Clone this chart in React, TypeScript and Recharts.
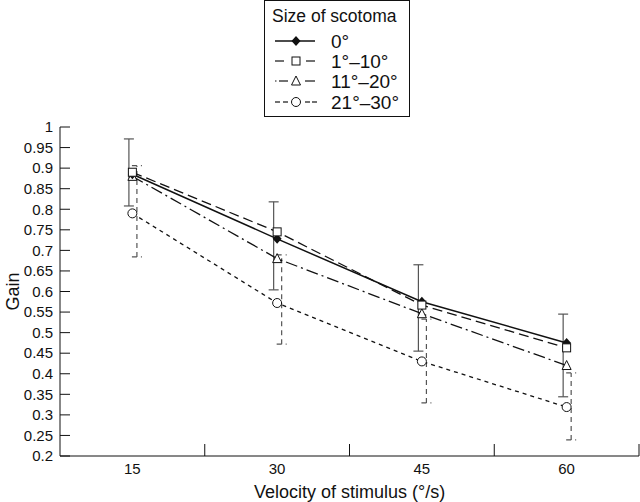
import { ComposedChart, ErrorBar, Line, Scatter, XAxis, YAxis } from "recharts";

const FONT = '"Liberation Sans", Arial, Helvetica, sans-serif';

const velocities = [15, 30, 45, 60];
const gain0 = [0.885, 0.728, 0.575, 0.475];
const gain1to10 = [0.89, 0.745, 0.567, 0.463];
const gain11to20 = [0.88, 0.68, 0.546, 0.42];
const gain21to30 = [0.79, 0.572, 0.43, 0.319];

// error bar ends
const gain0Low = [0.808, 0.604, 0.455, 0.344];
const gain0High = [0.971, 0.818, 0.665, 0.545];
const gain21to30Low = [0.684, 0.472, 0.329, 0.239];
const gain21to30High = [0.906, 0.689, 0.533, 0.402];

const yTicks = [0.2, 0.25, 0.3, 0.35, 0.4, 0.45, 0.5, 0.55, 0.6, 0.65, 0.7, 0.75, 0.8, 0.85, 0.9, 0.95, 1];
const xLabelTicks = [15, 30, 45, 60];
const xBandEdges = [22.5, 37.5, 52.5, 67.5];

const legendLabels = ["0°", "1°–10°", "11°–20°", "21°–30°"];

const chartData = velocities.map((v, i) => ({
  x: v,
  g0: gain0[i],
  g1: gain1to10[i],
  g2: gain11to20[i],
  g3: gain21to30[i],
}));

const errSolid = velocities.map((v, i) => ({
  x: v - 0.36,
  y: gain0[i],
  err: [gain0[i] - gain0Low[i], gain0High[i] - gain0[i]],
}));

const errDashed = velocities.map((v, i) => ({
  x: v + 0.47,
  y: gain21to30[i],
  err: [gain21to30[i] - gain21to30Low[i], gain21to30High[i] - gain21to30[i]],
}));

const INK = "#111";

function diamond(cx: number, cy: number, key?: string) {
  return (
    <path
      key={key}
      d={`M${cx},${cy - 5}L${cx + 4.5},${cy}L${cx},${cy + 5}L${cx - 4.5},${cy}Z`}
      fill={INK}
    />
  );
}
function square(cx: number, cy: number, key?: string) {
  return <rect key={key} x={cx - 4} y={cy - 4} width={8} height={8} fill="#fff" stroke={INK} strokeWidth={1} />;
}
function triangle(cx: number, cy: number, key?: string) {
  return (
    <path
      key={key}
      d={`M${cx},${cy - 5}L${cx + 4.5},${cy + 4}L${cx - 4.5},${cy + 4}Z`}
      fill="#fff"
      stroke={INK}
      strokeWidth={1}
    />
  );
}
function circle(cx: number, cy: number, key?: string) {
  return <circle key={key} cx={cx} cy={cy} r={4.5} fill="#fff" stroke={INK} strokeWidth={1} />;
}

const dotOf = (fn: typeof circle, name: string) => (p: any) => fn(p.cx, p.cy, `${name}-${p.index}`);

const noMark = () => <g />;

function XTick(props: any) {
  const { x, y, payload } = props;
  const v = payload.value;
  if (xLabelTicks.includes(v)) {
    return (
      <text x={x} y={y + 18} textAnchor="middle" fontSize={15} fontFamily={FONT} fill={INK}>
        {v}
      </text>
    );
  }
  if (xBandEdges.includes(v)) {
    return <line x1={x} x2={x} y1={y} y2={y - 12} stroke={INK} strokeWidth={1} />;
  }
  return <g />;
}

function YTick(props: any) {
  const { x, y, payload } = props;
  return (
    <g>
      <line x1={x} x2={x + 10} y1={y} y2={y} stroke={INK} strokeWidth={1} />
      <text x={x - 7} y={y} dy="0.35em" textAnchor="end" fontSize={15} fontFamily={FONT} fill={INK}>
        {String(payload.value)}
      </text>
    </g>
  );
}

function LegendBox() {
  const rows = [41, 61, 81, 102];
  return (
    <svg width={148} height={118} style={{ position: "absolute", left: 263, top: 0 }}>
      <rect x={1.5} y={0.5} width={145} height={116} fill="#fff" stroke={INK} strokeWidth={1} />
      <text x={9} y={22} fontSize={17.5} fontFamily={FONT} fill={INK}>
        Size of scotoma
      </text>
      {/* 0° */}
      <line x1={12} x2={52} y1={rows[0]} y2={rows[0]} stroke={INK} strokeWidth={1.5} />
      {diamond(33, rows[0])}
      {/* 1°–10° */}
      <line x1={12} x2={21} y1={rows[1]} y2={rows[1]} stroke={INK} strokeWidth={1.2} />
      <line x1={43} x2={52} y1={rows[1]} y2={rows[1]} stroke={INK} strokeWidth={1.2} />
      {square(33, rows[1])}
      {/* 11°–20° */}
      <line x1={12} x2={13.5} y1={rows[2]} y2={rows[2]} stroke={INK} strokeWidth={1.2} />
      <line x1={16} x2={25} y1={rows[2]} y2={rows[2]} stroke={INK} strokeWidth={1.2} />
      <line x1={42} x2={52} y1={rows[2]} y2={rows[2]} stroke={INK} strokeWidth={1.2} />
      {triangle(33, rows[2])}
      {/* 21°–30° */}
      <line x1={12} x2={17} y1={rows[3]} y2={rows[3]} stroke={INK} strokeWidth={1.2} />
      <line x1={20} x2={25} y1={rows[3]} y2={rows[3]} stroke={INK} strokeWidth={1.2} />
      <line x1={42} x2={47} y1={rows[3]} y2={rows[3]} stroke={INK} strokeWidth={1.2} />
      <line x1={49} x2={54} y1={rows[3]} y2={rows[3]} stroke={INK} strokeWidth={1.2} />
      {circle(33, rows[3])}
      {legendLabels.map((t, i) => (
        <text key={t} x={68} y={rows[i] + 6.5} fontSize={19} fontFamily={FONT} fill={INK}>
          {t}
        </text>
      ))}
    </svg>
  );
}

export default function App() {
  return (
    <div
      style={{
        position: "absolute",
        left: 0,
        top: 0,
        width: 640,
        height: 502,
        background: "#fff",
        fontFamily: FONT,
      }}
    >
      <ComposedChart
        width={640}
        height={502}
        data={chartData}
        margin={{ top: 127, right: 1, left: 0, bottom: 0 }}
      >
        <XAxis
          dataKey="x"
          type="number"
          domain={[7.5, 67.5]}
          allowDataOverflow
          ticks={[15, 22.5, 30, 37.5, 45, 52.5, 60, 67.5]}
          interval={0}
          tickLine={false}
          tickSize={0}
          tickMargin={0}
          tick={XTick}
          axisLine={{ stroke: INK }}
          height={46}
          label={{
            value: "Velocity of stimulus (°/s)",
            position: "insideBottom",
            offset: 4,
            fontSize: 18,
            fill: INK,
            fontFamily: FONT,
          }}
        />
        <YAxis
          type="number"
          domain={[0.2, 1]}
          allowDataOverflow
          ticks={yTicks}
          interval={0}
          tickLine={false}
          tickSize={0}
          tickMargin={0}
          tick={YTick}
          axisLine={{ stroke: INK }}
          width={60}
          label={{
            value: "Gain",
            angle: -90,
            position: "insideLeft",
            offset: 13,
            fontSize: 18,
            fill: INK,
            fontFamily: FONT,
            style: { textAnchor: "middle" },
          }}
        />
        <Scatter data={errSolid} dataKey="y" shape={noMark} isAnimationActive={false}>
          <ErrorBar dataKey="err" direction="y" width={5} stroke="#555" strokeWidth={1.2} />
        </Scatter>
        <Scatter data={errDashed} dataKey="y" shape={noMark} isAnimationActive={false}>
          <ErrorBar
            dataKey="err"
            direction="y"
            width={5}
            stroke="#555"
            strokeWidth={1.2}
            strokeDasharray="5 4"
          />
        </Scatter>
        <Line
          dataKey="g3"
          stroke={INK}
          strokeWidth={1.3}
          strokeDasharray="4 4"
          dot={dotOf(circle, "c")}
          activeDot={false}
          isAnimationActive={false}
        />
        <Line
          dataKey="g2"
          stroke={INK}
          strokeWidth={1.3}
          strokeDasharray="12 4 2 4"
          dot={dotOf(triangle, "t")}
          activeDot={false}
          isAnimationActive={false}
        />
        <Line
          dataKey="g0"
          stroke={INK}
          strokeWidth={1.5}
          dot={dotOf(diamond, "d")}
          activeDot={false}
          isAnimationActive={false}
        />
        <Line
          dataKey="g1"
          stroke={INK}
          strokeWidth={1.3}
          strokeDasharray="10 5"
          dot={dotOf(square, "s")}
          activeDot={false}
          isAnimationActive={false}
        />
      </ComposedChart>
      <LegendBox />
    </div>
  );
}
